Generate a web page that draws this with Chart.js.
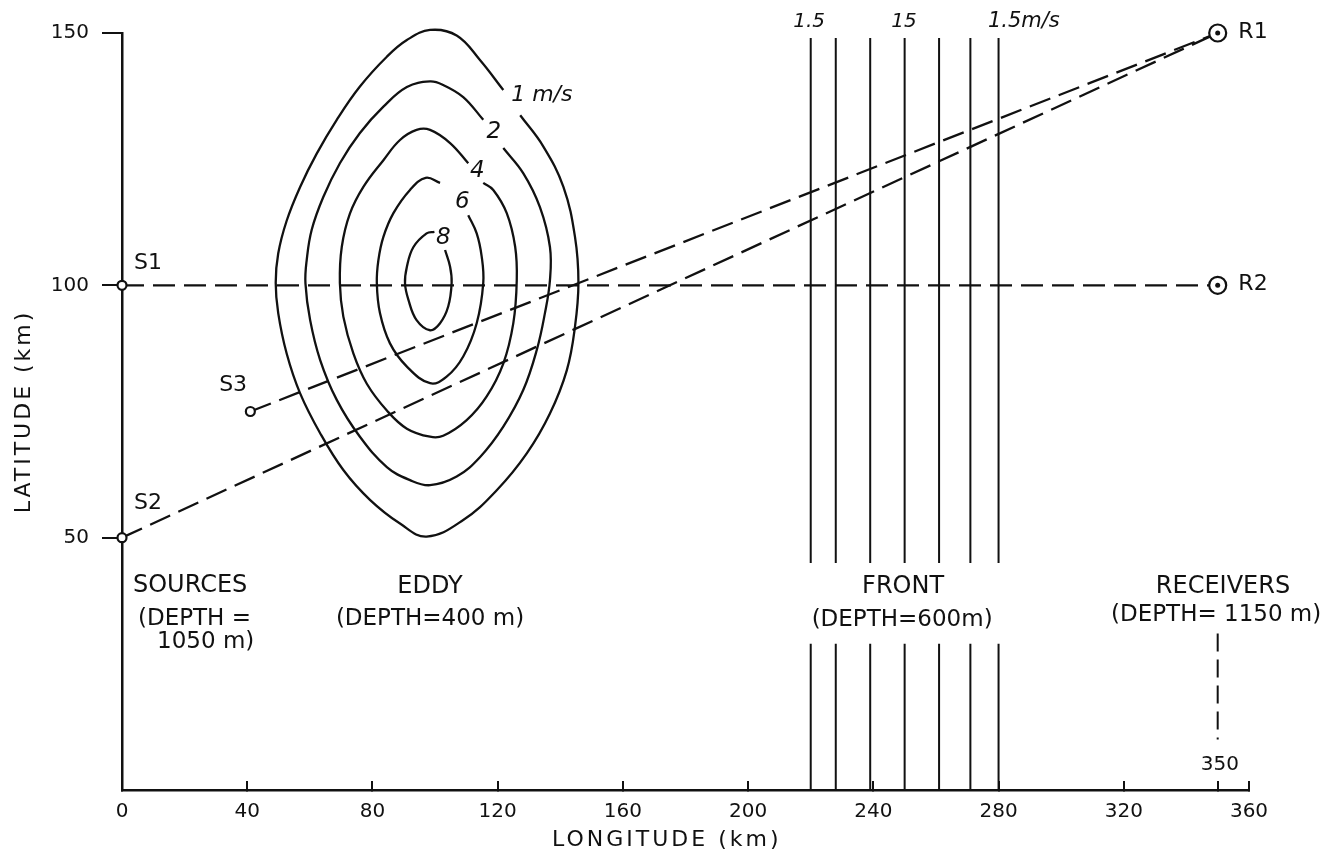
<!DOCTYPE html>
<html lang="en">
<head>
<meta charset="UTF-8">
<title>Eddy, front and ray paths</title>
<script src="https://cdn.jsdelivr.net/npm/chart.js"></script>
<style>
  html, body { margin: 0; padding: 0; background: #fff; }
  .chart-container { position: relative; width: 1321px; height: 861px; }
</style>
</head>
<body>
<div class="chart-container"><canvas id="tomoChart"></canvas></div>
<script>
// axis ticks (km)
const xTicks = [0, 40, 80, 120, 160, 200, 240, 280, 320, 360];
const yTicks = [50, 100, 150];

// sources and receivers (km)
const sourceNames = ['S1', 'S2', 'S3'];
const sourceX = [0, 0, 41];
const sourceY = [100, 50, 75];
const receiverNames = ['R1', 'R2'];
const receiverX = [350, 350];
const receiverY = [150, 100];
// ray paths as [source, receiver] index pairs
const rays = [[0, 1], [1, 0], [2, 0]];

// front: lines of equal current speed, and their vertical extent
const frontX = [220, 228, 239, 250, 261, 271, 280];
const frontUpper = [149, 45];
const frontLower = [29, 0];

// receiver depth marker under R at 350 km
const markerX = 350;
const markerY = [31, 10];

// eddy contours (traced, km), each open where its label sits
const eddyLevels = ['1 m/s', '2', '4', '6', '8'];
const eddy1 = [[121.8,138.7],[114.4,144.6],[106.9,149.5],[98.4,150.6],[91,148.6],[84.6,145.3],[76,139.4],[68.6,132.8],[62.2,126.1],[56.9,119.5],[52.6,112.8],[49.9,106.3],[49.1,100.5],[49.9,94.5],[52.6,86.5],[56.9,78.6],[63.3,70.7],[70.7,63.4],[79.2,57.5],[88.8,52.8],[97.3,50.2],[109,53.5],[119.7,59.4],[129.3,66.7],[136.7,74.6],[142.1,83.2],[144.7,91.8],[145.8,100.5],[144.7,109.6],[141,119.5],[134.6,127.5],[127.2,133.7]];
const eddy2 = [[115.4,132.8],[109,137.3],[102.6,139.7],[98.4,140.4],[91,139.3],[83.5,135.4],[76,130.2],[69.6,124.2],[64.3,117.5],[60.6,111],[59,105],[58.6,100.4],[60.1,93.1],[63.3,85.2],[68.6,77.3],[76,70],[84.6,64],[92,61.4],[98.4,60.4],[106.9,62.1],[114.4,66],[121.8,72],[128.2,79.3],[132.5,87.2],[135.1,94.5],[136.7,101],[136.7,107.6],[133.5,115.5],[128.2,122.2],[121.8,127.2]];
const eddy4 = [[110.6,124.2],[104.8,128.2],[98.4,130.8],[94.1,130.8],[88.8,128.8],[83.5,124.8],[77.1,119.5],[72.8,114.2],[70.2,107.6],[69.6,100.4],[70.7,93.8],[73.9,86.5],[78.2,80.5],[84.6,75.2],[91,71.6],[98.4,70],[102.6,70.2],[110.1,73.3],[116.5,78],[121.8,84.5],[125,92.5],[126.1,101],[125.6,107.6],[122.9,114.3],[118.6,118.9],[115.4,120.3]];
const eddy6 = [[101.6,120.3],[97,121.3],[92,118.9],[86.7,114.3],[83.5,109.6],[81.9,105],[81.4,100.4],[82.4,94.5],[85.6,88.5],[91,83.9],[98.4,80.6],[103.7,81.9],[109,85.9],[113.3,92.5],[115.4,100.5],[114.9,105.7],[113.3,110.3],[110.6,113.9]];
const eddy8 = [[99.8,110.6],[97.3,110.3],[93.1,107.6],[91,103.7],[90.4,100.4],[91.5,97.1],[94.1,93.1],[98.4,91.1],[101.6,92.5],[104.2,95.8],[105.3,100.5],[104.8,103.7],[103.2,107]];
const eddyContours = [eddy1, eddy2, eddy4, eddy6, eddy8];

const ink = '#111';
const FONT = '"DejaVu Sans", sans-serif';

// text placed on the figure (data coordinates)
const notes = [
    { text: sourceNames[0], x: 8.3, y: 104.4, size: 22 },
    { text: sourceNames[1], x: 8.3, y: 56.9, size: 22 },
    { text: sourceNames[2], x: 35.5, y: 80.2, size: 22 },
    { text: receiverNames[0], x: 356.6, y: 150.2, size: 22, align: 'left' },
    { text: receiverNames[1], x: 356.6, y: 100.3, size: 22, align: 'left' },
    { text: 'SOURCES', x: 3.5, y: 40.4, size: 24, align: 'left' },
    { text: '(DEPTH =', x: 5.1, y: 33.9, size: 23, align: 'left' },
    { text: '1050 m)', x: 11.2, y: 29.3, size: 23, align: 'left' },
    { text: 'EDDY', x: 98.4, y: 40.2, size: 24 },
    { text: '(DEPTH=400 m)', x: 98.4, y: 33.9, size: 23 },
    { text: 'FRONT', x: 249.5, y: 40.2, size: 24 },
    { text: '(DEPTH=600m)', x: 249.2, y: 33.7, size: 23 },
    { text: 'RECEIVERS', x: 351.7, y: 40.2, size: 24 },
    { text: '(DEPTH= 1150 m)', x: 349.5, y: 34.7, size: 23 },
    { text: '350', x: 350.7, y: 5, size: 20 },
    { text: eddyLevels[0], x: 134.1, y: 137.7, size: 22, italic: true },
    { text: eddyLevels[1], x: 118.8, y: 130.3, size: 23, italic: true },
    { text: eddyLevels[2], x: 113.5, y: 122.7, size: 23, italic: true },
    { text: eddyLevels[3], x: 108.7, y: 116.6, size: 23, italic: true },
    { text: eddyLevels[4], x: 102.6, y: 109.3, size: 23, italic: true },
    { text: '1.5', x: 219.5, y: 152.2, size: 20, italic: true },
    { text: '15', x: 249.8, y: 152.2, size: 20, italic: true },
    { text: '1.5m/s', x: 276.6, y: 152.2, size: 21, italic: true, align: 'left' }
];

const pt = (x, y) => ({ x, y });
const datasets = [];

// receivers: centre dot above ring
datasets.push({ data: receiverX.map((x, i) => pt(x, receiverY[i])), pointRadius: 2.5,
    pointBackgroundColor: ink, pointBorderWidth: 0 });
datasets.push({ data: receiverX.map((x, i) => pt(x, receiverY[i])), pointRadius: 8.5,
    pointBackgroundColor: '#fff', pointBorderColor: ink, pointBorderWidth: 2.2 });
datasets.push({ data: sourceX.map((x, i) => pt(x, sourceY[i])), pointRadius: 4.5,
    pointBackgroundColor: '#fff', pointBorderColor: ink, pointBorderWidth: 2.2 });

rays.forEach(([s, r]) => {
    datasets.push({ data: [pt(sourceX[s], sourceY[s]), pt(receiverX[r], receiverY[r])],
        showLine: true, borderColor: ink, borderWidth: 2.3, borderDash: [22, 9], pointRadius: 0 });
});

frontX.forEach(x => {
    [frontUpper, frontLower].forEach(seg => {
        datasets.push({ data: seg.map(y => pt(x, y)), showLine: true,
            borderColor: ink, borderWidth: 2, pointRadius: 0 });
    });
});

datasets.push({ data: markerY.map(y => pt(markerX, y)), showLine: true,
    borderColor: ink, borderWidth: 2, borderDash: [18, 8], pointRadius: 0 });

eddyContours.forEach(c => {
    datasets.push({ data: c.map(([x, y]) => pt(x, y)), showLine: true, tension: 0.4,
        borderColor: ink, borderWidth: 2.3, pointRadius: 0 });
});

datasets.forEach(d => { d.clip = false; });

// labels, axis titles drawn over the plot
const figureText = {
    id: 'figureText',
    afterDatasetsDraw(chart) {
        const { ctx, scales: { x, y }, chartArea } = chart;
        ctx.save();
        ctx.fillStyle = ink;
        ctx.textBaseline = 'middle';
        notes.forEach(n => {
            ctx.font = (n.italic ? 'italic ' : '') + n.size + 'px ' + FONT;
            ctx.textAlign = n.align || 'center';
            ctx.fillText(n.text, x.getPixelForValue(n.x), y.getPixelForValue(n.y));
        });
        ctx.font = '22px ' + FONT;
        ctx.letterSpacing = '3px';
        ctx.textAlign = 'center';
        ctx.fillText('LONGITUDE (km)', x.getPixelForValue(174), chartArea.bottom + 50);
        ctx.translate(24, y.getPixelForValue(75));
        ctx.rotate(-Math.PI / 2);
        ctx.fillText('LATITUDE (km)', 0, 0);
        ctx.restore();
    }
};

new Chart(document.getElementById('tomoChart').getContext('2d'), {
    type: 'scatter',
    data: { datasets },
    options: {
        responsive: true,
        maintainAspectRatio: false,
        animation: false,
        events: [],
        layout: { padding: { top: 33, right: 72, left: 0, bottom: 0 } },
        plugins: { legend: { display: false }, tooltip: { enabled: false } },
        scales: {
            x: {
                type: 'linear', min: 0, max: 360,
                afterBuildTicks: s => { s.ticks = xTicks.concat([markerX]).sort((a, b) => a - b).map(v => ({ value: v })); },
                afterFit: s => { s.height = 71; },
                ticks: {
                    autoSkip: false, maxRotation: 0, padding: 19, color: ink,
                    font: { family: FONT, size: 20 },
                    callback: v => xTicks.includes(v) ? String(v) : ''
                },
                grid: { drawOnChartArea: false, drawTicks: true, tickLength: -9, color: ink, lineWidth: 2 },
                border: { color: ink, width: 2.5 }
            },
            y: {
                type: 'linear', min: 0, max: 150,
                afterBuildTicks: s => { s.ticks = yTicks.map(v => ({ value: v })); },
                afterFit: s => { s.width = 122; },
                ticks: { padding: 13, color: ink, font: { family: FONT, size: 20 } },
                grid: { drawOnChartArea: false, drawTicks: true, tickLength: 20, color: ink, lineWidth: 2 },
                border: { color: ink, width: 2.5 }
            }
        }
    },
    plugins: [figureText]
});
</script>
</body>
</html>
